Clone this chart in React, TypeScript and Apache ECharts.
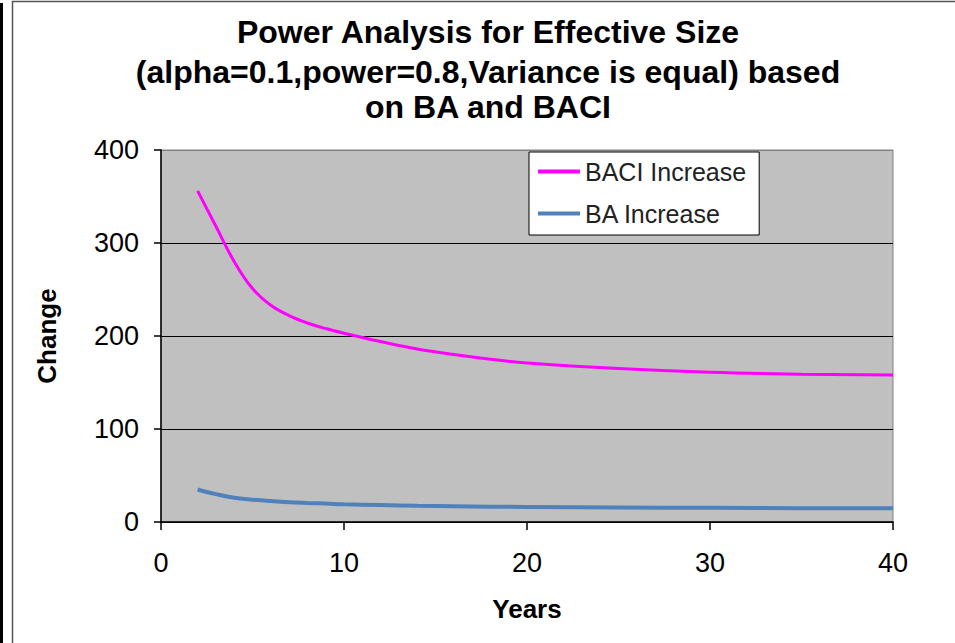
import React, { useEffect, useRef } from "react";
import * as echarts from "echarts";

const titleLines = [
  "Power Analysis for Effective Size",
  "(alpha=0.1,power=0.8,Variance is equal) based",
  "on BA and BACI",
];
const years = [2, 3, 4, 5, 6, 7, 8, 9, 10, 12, 14, 16, 18, 20, 25, 30, 35, 40];
const baciIncrease = [356, 318, 280, 251, 233, 222, 214, 208, 203, 194, 186, 180, 175, 171, 165, 161, 159, 158];
const baIncrease = [35, 30, 26, 24, 22.5, 21.3, 20.5, 19.8, 19, 18.2, 17.5, 17, 16.5, 16.2, 15.6, 15.2, 14.9, 14.7];
const xTicks = [0, 10, 20, 30, 40];
const yTicks = [0, 100, 200, 300, 400];

const FONT = "'Liberation Sans', Arial, sans-serif";
const titleTops = [13, 53, 88];

export default function App() {
  const ref = useRef<HTMLDivElement>(null);
  useEffect(() => {
    document.body.style.margin = "0";
    const chart = echarts.init(ref.current!, null, { renderer: "svg" });
    chart.setOption({
      animation: false,
      backgroundColor: "#ffffff",
      title: titleLines.map((t, i) => ({
        text: t,
        left: 488,
        top: titleTops[i],
        textAlign: "center",
        padding: 0,
        textStyle: { fontFamily: FONT, fontSize: 32, fontWeight: "bold", color: "#000", lineHeight: 38 },
      })),
      graphic: [
        { type: "rect", shape: { x: 12.5, y: 1.5, width: 960, height: 660 }, style: { fill: "none", stroke: "#555", lineWidth: 1.5 } },
        { type: "rect", shape: { x: 0, y: 3, width: 3, height: 650 }, style: { fill: "#000" } },
      ],
      legend: {
        orient: "vertical",
        left: 529,
        top: 152,
        backgroundColor: "#ffffff",
        borderColor: "#000",
        borderWidth: 1,
        padding: [7, 13, 9, 9],
        itemWidth: 42,
        itemHeight: 4,
        itemGap: 17,
        textStyle: { fontFamily: FONT, fontSize: 25, color: "#222" },
        data: [
          { name: "BACI Increase", icon: "rect" },
          { name: "BA Increase", icon: "rect" },
        ],
      },
      grid: {
        left: 161,
        top: 150,
        right: 62,
        bottom: 121,
        show: true,
        backgroundColor: "#c0c0c0",
        borderColor: "#808080",
        borderWidth: 1,
      },
      xAxis: {
        type: "value",
        min: 0,
        max: 40,
        interval: 10,
        name: "Years",
        nameLocation: "middle",
        nameGap: 74,
        nameTextStyle: { fontFamily: FONT, fontSize: 26, fontWeight: "bold", color: "#000" },
        axisLine: { show: true, lineStyle: { color: "#000", width: 1.5 } },
        axisTick: { show: true, length: 8, lineStyle: { color: "#000", width: 1.5 } },
        axisLabel: { margin: 27, fontFamily: FONT, fontSize: 27, color: "#000",
          formatter: (v: number) => (xTicks.includes(v) ? String(v) : "") },
        splitLine: { show: false },
      },
      yAxis: {
        type: "value",
        min: 0,
        max: 400,
        interval: 100,
        name: "Change",
        nameLocation: "middle",
        nameGap: 101,
        nameTextStyle: { fontFamily: FONT, fontSize: 26, fontWeight: "bold", color: "#000" },
        axisLine: { show: true, lineStyle: { color: "#000", width: 1.5 } },
        axisTick: { show: true, length: 7, lineStyle: { color: "#000", width: 1.5 } },
        axisLabel: { margin: 22, fontFamily: FONT, fontSize: 27, color: "#000",
          formatter: (v: number) => (yTicks.includes(v) ? String(v) : "") },
        splitLine: { show: true, lineStyle: { color: ["#000", "#000", "#000", "#000", "#808080"], width: 1.2 } },
      },
      series: [
        {
          name: "BACI Increase",
          type: "line",
          smooth: 0.4,
          symbol: "none",
          data: years.map((y, i) => [y, baciIncrease[i]]),
          lineStyle: { color: "#ff00ff", width: 3 },
          itemStyle: { color: "#ff00ff" },
        },
        {
          name: "BA Increase",
          type: "line",
          smooth: 0.4,
          symbol: "none",
          data: years.map((y, i) => [y, baIncrease[i]]),
          lineStyle: { color: "#4f81bd", width: 4 },
          itemStyle: { color: "#4f81bd" },
        },
      ],
    });
    return () => chart.dispose();
  }, []);
  return <div ref={ref} style={{ position: "absolute", left: 0, top: 0, width: 955, height: 643 }} />;
}
